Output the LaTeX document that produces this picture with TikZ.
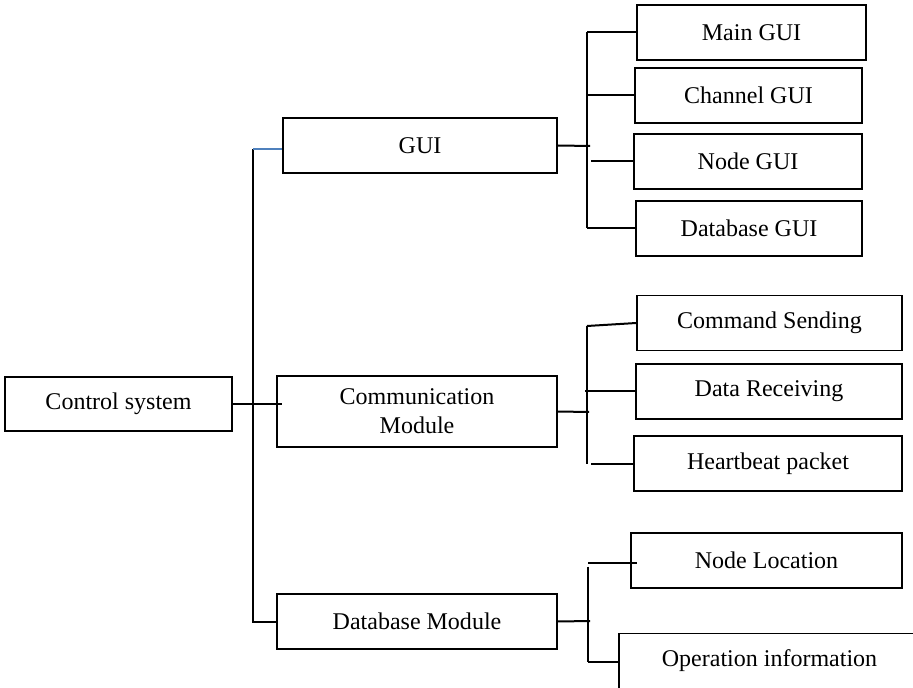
\documentclass[tikz,border=0pt]{standalone}
\usepackage{fontspec}
\setmainfont{Liberation Serif}
\definecolor{wordblue}{RGB}{79,129,189}
\tikzset{
	box/.style={draw, line width=0.65pt, inner sep=0pt, align=center, font=\fontsize{12}{14.5}\selectfont},
	link/.style={line width=1pt}
}

\begin{document}
\begin{tikzpicture}[x=0.5pt, y=-0.5pt]
			\useasboundingbox (0,0) rectangle (913,688);
			\clip (0,0) rectangle (913,688);
			\node[box, minimum width=113.5pt, minimum height=27pt] (ctrl) at (118.5,404) {Control system};
			\node[box, minimum width=137pt, minimum height=27.5pt] (gui) at (420,145.5) {GUI};
			\node[box, minimum width=140pt, minimum height=35.5pt] (comm) at (417,411.5) {Communication\\Module};
			\node[box, minimum width=140pt, minimum height=27.5pt] (db) at (417,621.5) {Database Module};
			\foreach \name/\cx/\cy/\w/\txt in {maingui/751.5/32.5/229/Main GUI, changui/748.5/95.5/227/Channel GUI,
				nodegui/748/161.5/228/Node GUI, dbgui/749/228.5/226/Database GUI,
				cmdsend/769.5/323/265/Command Sending, datarecv/769/391.5/266/Data Receiving,
				heartbeat/768/463.5/268/Heartbeat packet, nodeloc/766.5/560.5/271/Node Location,
				opinfo/769.5/661/301/Operation information} {
				\node[box, minimum width=\w*0.5pt, minimum height=27.5pt] (\name) at (\cx,\cy) {\txt};
			}
			\coordinate (trunk) at (253,149);
			\draw[link] (ctrl.east) -- ([shift={(6,0)}]ctrl.east -| comm.west);
			\draw[link] (db.west) -- (db.west -| trunk) -- (trunk);
			\draw[link, wordblue] (trunk) -- (trunk -| gui.west);
			\coordinate (guibus) at (587,146);
			\draw[link] (gui.east) -- ([shift={(3,0)}]guibus);
			\draw[link] (guibus |- maingui.west) -- (guibus |- dbgui.west);
			\foreach \n in {maingui,changui,dbgui} {
				\draw[link] (guibus |- \n.west) -- (\n.west);
			}
			\draw[link] ([shift={(4,0)}]guibus |- nodegui.west) -- (nodegui.west);
			\coordinate (commbus) at (587,412);
			\draw[link] (comm.east) -- ([shift={(2,0)}]commbus);
			\draw[link] ([shift={(0,3)}]commbus |- cmdsend.west) -- (commbus |- heartbeat.west);
			\draw[link] ([shift={(0,3)}]commbus |- cmdsend.west) -- (cmdsend.west);
			\draw[link] ([shift={(-2,0)}]commbus |- datarecv.west) -- (datarecv.west);
			\draw[link] ([shift={(4,0)}]commbus |- heartbeat.west) -- (heartbeat.west);
			\coordinate (dbbus) at (588,621);
			\draw[link] (db.east) -- ([shift={(2,0)}]dbbus);
			\draw[link] ([shift={(0,6)}]dbbus |- nodeloc.west) -- ([shift={(0,1)}]dbbus |- opinfo.west);
			\draw[link] ([shift={(0,2)}]dbbus |- nodeloc.west) -- ([shift={(7,2)}]nodeloc.west);
			\draw[link] ([shift={(0,1)}]dbbus |- opinfo.west) -- ([shift={(0,1)}]opinfo.west);
		\end{tikzpicture}
\end{document}
